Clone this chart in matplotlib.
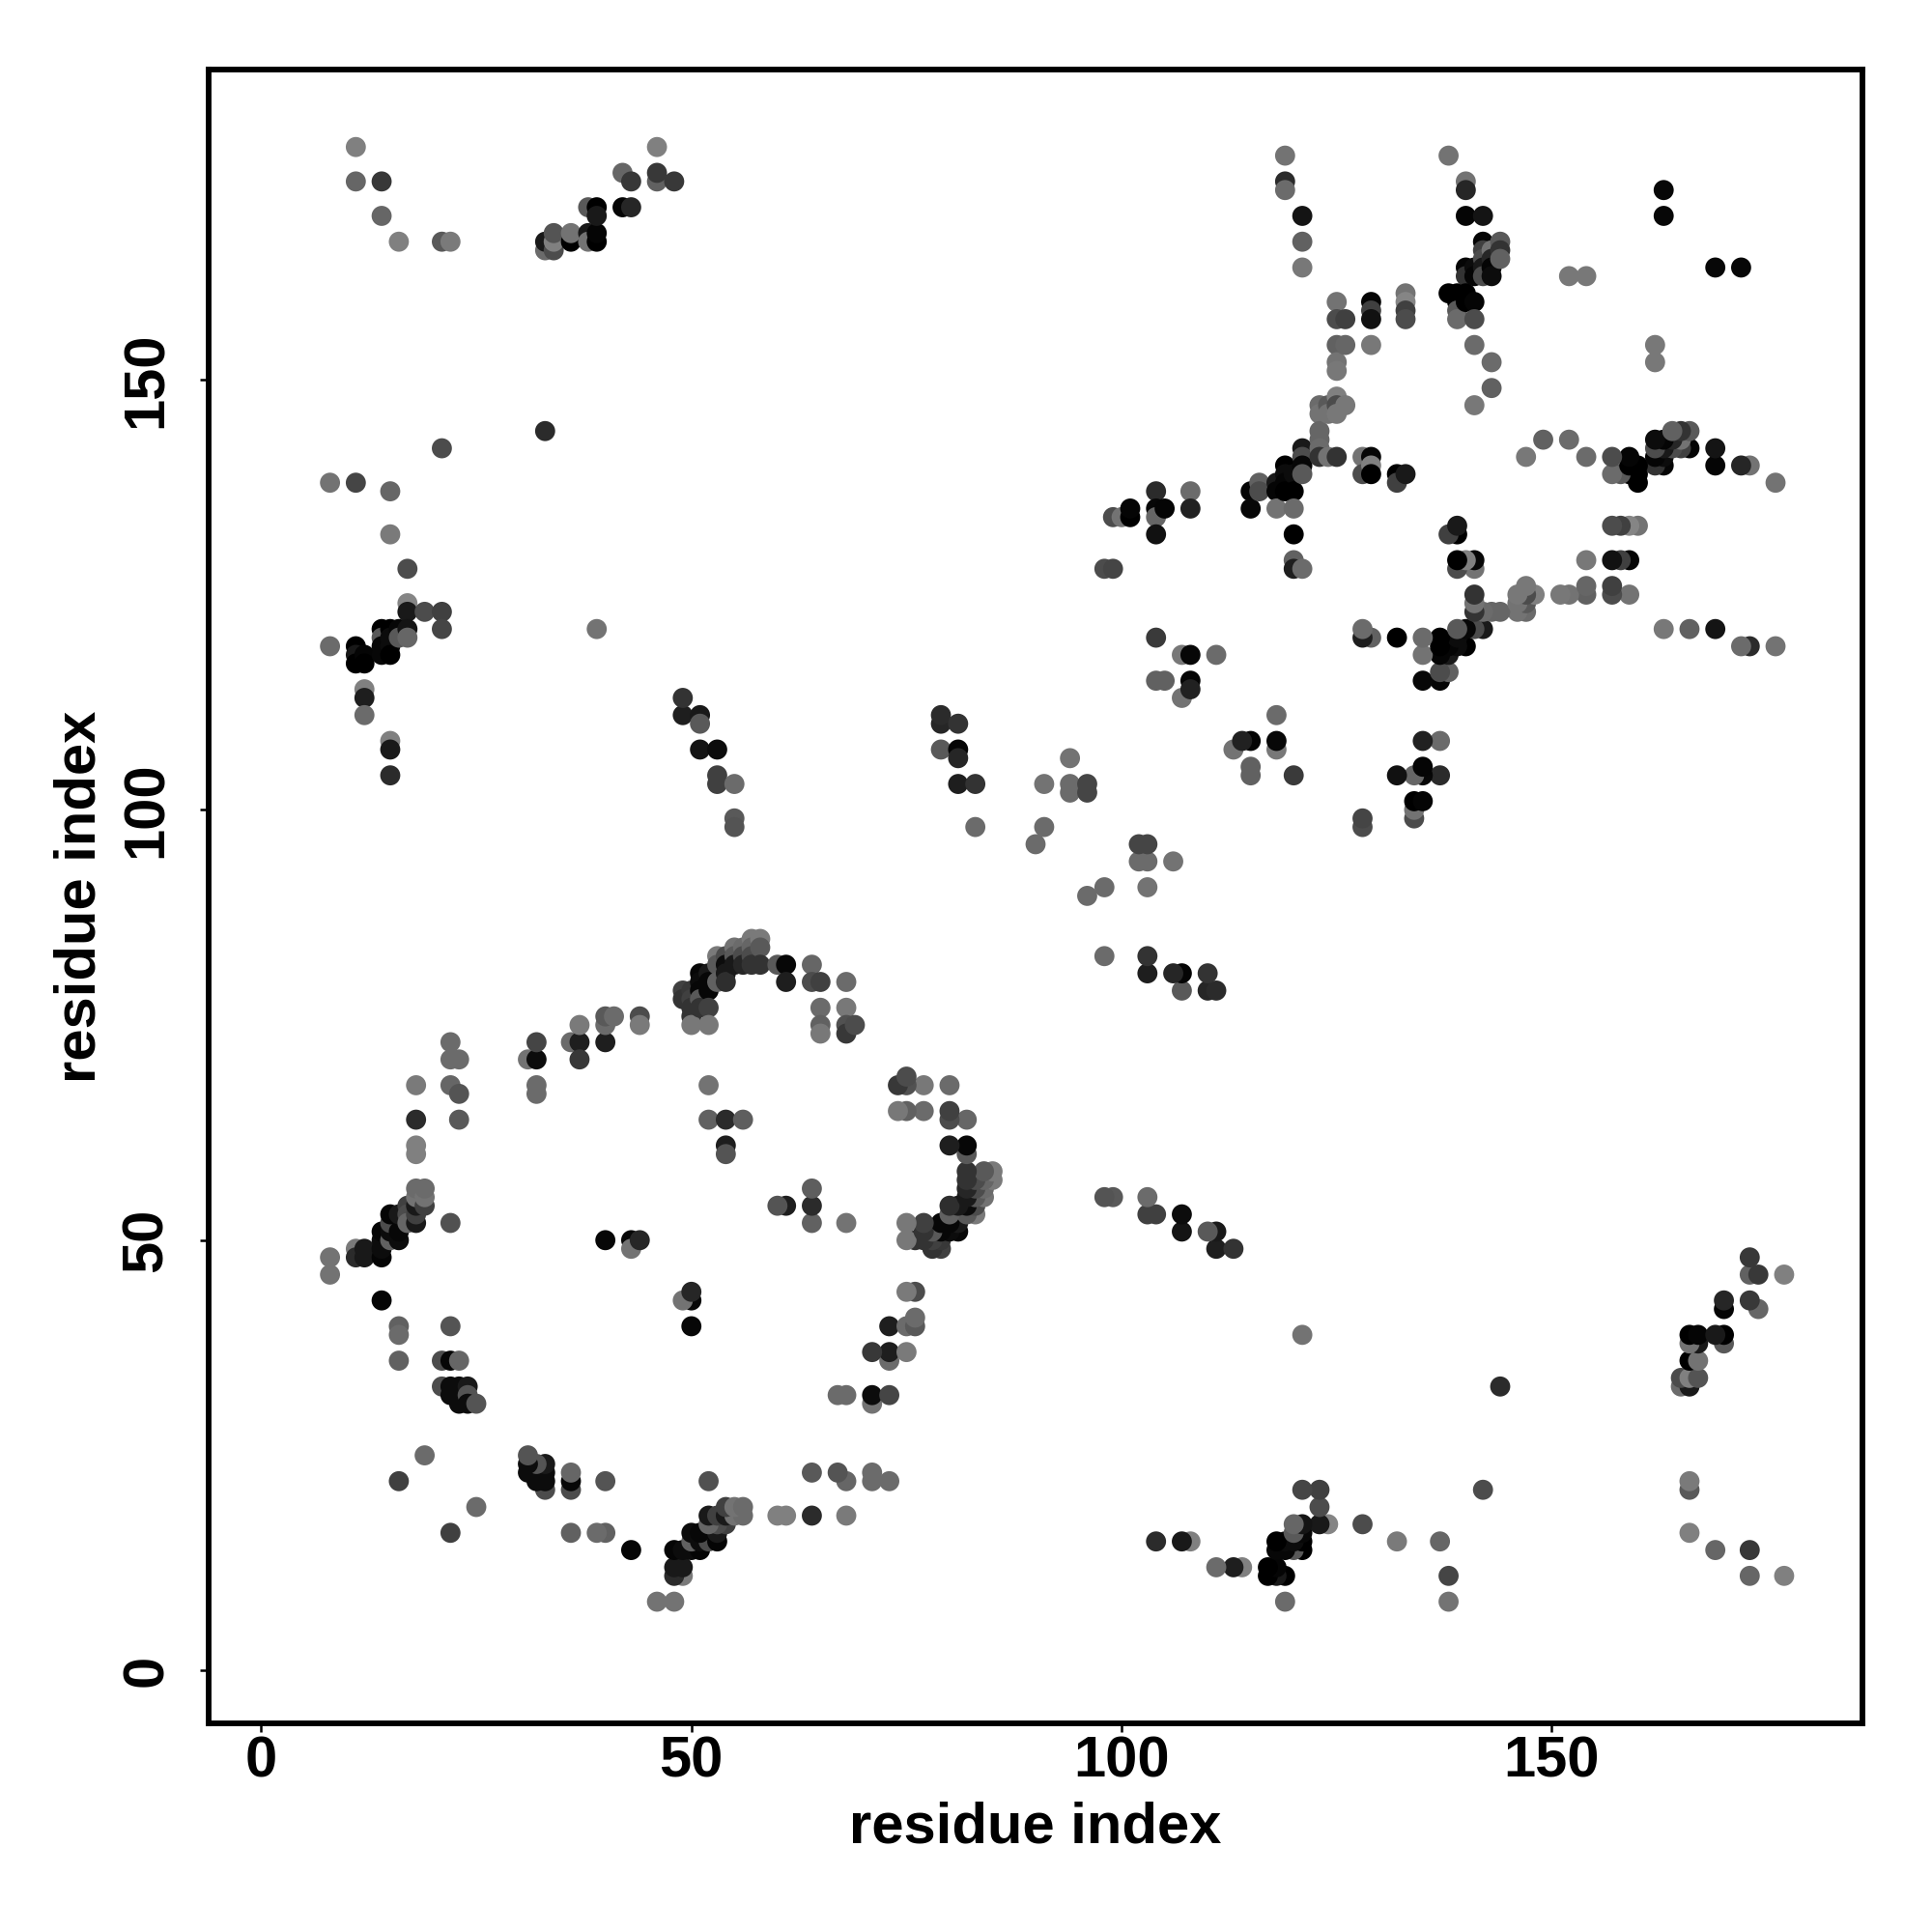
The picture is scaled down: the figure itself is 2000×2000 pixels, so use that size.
import numpy as np
import matplotlib
matplotlib.use('Agg')
import matplotlib.pyplot as plt

plt.rcParams['font.family'] = ['Liberation Sans', 'DejaVu Sans']
plt.rcParams['font.weight'] = 'bold'

res_i = [8]*4 + [11]*8 + [12]*7 + [14]*11 + [15]*13 + [16]*10 + [17]*8 + [18]*9 + [19]*5 \
    + [21]*6 + [22]*9 + [23]*7 + [24]*3 + [25] + [31] + [32]*4 + [33]*3 + [34]*3 + [36]*3 \
    + [37]*3 + [38]*3 + [39]*5 + [40]*4 + [41] + [42]*2 + [43]*4 + [44]*3 + [46]*3 + [48] \
    + [49]*4 + [50]*5 + [51]*8 + [52]*7 + [53]*6 + [54]*7 + [55]*6 + [56]*4 + [57]*4 + [58]*3 \
    + [60] + [61]*2 + [64]*2 + [65]*4 + [68]*4 + [69] + [79]*3 + [81]*4 + [83]*2 + [90] + [91]*2 \
    + [94]*3 + [96]*2 + [98] + [99]*2 + [100] + [101]*2 + [104]*6 + [105]*2 + [107]*2 + [108]*5 \
    + [111] + [115]*2 + [116]*2 + [118]*3 + [119]*7 + [120]*6 + [121]*8 + [123]*6 + [124]*3 \
    + [125]*9 + [126]*3 + [128]*2 + [129]*7 + [132]*2 + [133]*5 + [138]*2 + [139]*4 + [140]*7 \
    + [141]*6 + [142]*6 + [143]*6 + [144]*3 + [152] + [154] + [163]*2

res_j = [48, 46, 119, 138,
         49, 48, 119, 118, 117, 138, 173, 177,
         49, 48, 118, 117, 114, 113, 111,
         48, 49, 50, 51, 43, 121, 120, 119, 118, 173, 169,
         50, 51, 52, 53, 121, 120, 119, 118, 108, 107, 104, 132, 137,
         50, 51, 53, 40, 39, 36, 22, 121, 120, 166,
         54, 53, 52, 128, 124, 123, 121, 120,
         52, 53, 54, 55, 56, 60, 61, 64, 68,
         54, 55, 56, 25, 123,
         33, 36, 123, 121, 142, 166,
         52, 73, 71, 68, 40, 36, 33, 32, 166,
         71, 67, 64, 36, 33, 32, 31,
         33, 32, 31,
         31,
         71,
         71, 73, 68, 67,
         165, 166, 144,
         165, 166, 167,
         73, 166, 167,
         73, 75, 71,
         167, 166, 170,
         166, 167, 170, 169, 121,
         73, 75, 76, 50,
         76,
         170, 174,
         170, 173, 50, 49,
         76, 75, 50,
         177, 173, 174,
         173,
         79, 78, 111, 113,
         79, 78, 77, 76, 75,
         81, 80, 79, 78, 77, 111, 110, 107,
         81, 80, 79, 77, 75, 68, 64,
         83, 82, 80, 107, 104, 103,
         83, 82, 81, 80, 64, 61, 60,
         84, 83, 82, 103, 99, 98,
         84, 83, 82, 64,
         85, 84, 83, 82,
         85, 84, 82,
         82,
         82, 80,
         82, 80,
         80, 77, 75, 74,
         80, 77, 75, 74,
         75,
         110, 111, 107,
         110, 107, 106, 103,
         103, 98,
         96,
         98, 103,
         106, 103, 102,
         103, 102,
         128,
         128, 134,
         134,
         134, 135,
         120, 115, 137, 135, 134, 132,
         115, 135,
         118, 113,
         118, 115, 114, 137, 135,
         118,
         137, 135,
         138, 137,
         138, 137, 135,
         176, 173, 172, 140, 139, 138, 137,
         139, 137, 135, 132, 129, 128,
         169, 166, 163, 142, 141, 140, 139, 128,
         147, 146, 144, 143, 142, 141,
         147, 146, 141,
         159, 157, 154, 152, 151, 148, 147, 146, 141,
         157, 154, 147,
         141, 139,
         159, 158, 157, 154, 141, 140, 139,
         139, 138,
         139, 160, 159, 158, 157,
         176, 160,
         160, 159, 158, 157,
         173, 172, 169, 163, 162, 160, 159,
         163, 162, 159, 157, 154, 147,
         169, 166, 165, 164, 163, 162,
         165, 164, 163, 162, 152, 149,
         166, 165, 164,
         162,
         162,
         172, 169]

grey = [.45, .45, .42, .45,
        .48, .17, 0, .1, 0, .27, .4, .5,
        .1, .1, .02, 0, .5, .12, .42,
        .02, .05, .05, .02, .02, 0, .35, .03, .03, .22, .4,
        .38, .05, .3, .02, 0, .05, .05, 0, .5, .1, .17, .48, .4,
        .05, .03, .1, .38, .42, .38, .25, .03, .35, .5,
        .25, .3, .4, .3, .52, .1, .08, .4,
        .1, .25, .1, .45, .42, .5, .5, .17, .48,
        .25, .45, .42, .42, .3,
        .3, .3, .25, .27, .3, .35,
        .32, .42, .42, .4, .33, .03, .05, .05, .48,
        .42, .33, .35, .4, .05, .05, .05,
        .1, .33, .05,
        .33,
        .45,
        .05, .27, .42, .42,
        .42, .1, .17,
        .3, .5, .33,
        .42, 0, .45,
        .12, .48, .22,
        .1, .45, .35,
        0, .02, 0, .1, .45,
        .12, .42, .35, .03,
        .42,
        .02, .4,
        .15, .22, .03, .45,
        .3, .48, .15,
        .5, .38, .22,
        .22,
        .25, .2, .12, .2,
        .22, .25, .2, .2, .47,
        .03, .05, .03, .35, .2, .1, .35, .08,
        .1, .03, .03, .25, .47, .45, .38,
        .48, .35, .38, .05, .25, .25,
        .3, .05, .1, .18, .17, .12, .33,
        .45, .35, .1, .42, .35, .33,
        .42, .3, .15, .37,
        .48, .4, .3, .2,
        .48, .35, .2,
        .35,
        .03, .12,
        .4, .3,
        .25, .42, .38, .47,
        .42, .47, .32, .22,
        .3,
        .15, .17, .35,
        .2, .02, .15, .12,
        .2, .42,
        .42,
        .42, .45,
        .45, .42, .42,
        .27, .27,
        .3,
        .27, .3,
        .45,
        0, .02,
        .23, .38, .17, .03, .4, .07,
        .38, .02,
        .47, .45,
        .03, .02, .13, .42, .13,
        .42,
        .02, .03,
        .38, .3,
        .1, .02, .45,
        .45, .17, .42, 0, .05, .02, 0,
        .05, 0, .42, 0, .38, .12,
        .08, .38, .47, .1, .3, .03, .35, .42,
        .42, .45, .4, .4, .42, .2,
        .35, .45, .45,
        .45, .3, .38, .45, .47, .5, .3, .47, .2,
        .25, .4, .47,
        .45, .3,
        .02, .25, .07, .47, .03, .5, 0,
        0, .25,
        .1, .45, .52, .25, .3,
        .45, 0,
        0, 0, .35, .42,
        .45, .15, .02, .02, .2, 0, 0,
        .05, .02, .02, .3, .42, .47,
        .08, .02, .25, .3, .1, .3,
        .45, .15, .02, .05, .42, .38,
        .35, .2, .38,
        .47,
        .47,
        .03, .03]

tick_vals = [0, 50, 100, 150]
axis_name = 'residue index'

res_i = np.array(res_i)
res_j = np.array(res_j)
grey = np.array(grey)

fig = plt.figure(figsize=(10, 10), dpi=200)
ax = fig.add_axes([216.3/2000, 1 - 1783.7/2000, 1711.7/2000, 1711.7/2000])

# the map is symmetric so each contact goes in twice
ax.scatter(np.r_[res_i, res_j], np.r_[res_j, res_i], c=np.r_[grey, grey],
           cmap='gray', vmin=0, vmax=1, s=56, linewidths=0, clip_on=False)

ax.set_xlim(-6.07, 186.1)
ax.set_ylim(-6.1, 186)
ax.set_xticks(tick_vals)
ax.set_yticks(tick_vals)
ax.tick_params(width=0.9, length=3.2, labelsize=21.5)
ax.tick_params(axis='x', pad=1.5)
ax.tick_params(axis='y', pad=10)
plt.setp(ax.get_yticklabels(), rotation=90, va='center')
for spine in ax.spines.values():
    spine.set_linewidth(2.1)
ax.set_xlabel(axis_name, fontsize=21.5, fontweight='bold', labelpad=4.5)
ax.set_ylabel(axis_name, fontsize=21.5, fontweight='bold', labelpad=5)

fig.savefig('out.png', dpi=200)
